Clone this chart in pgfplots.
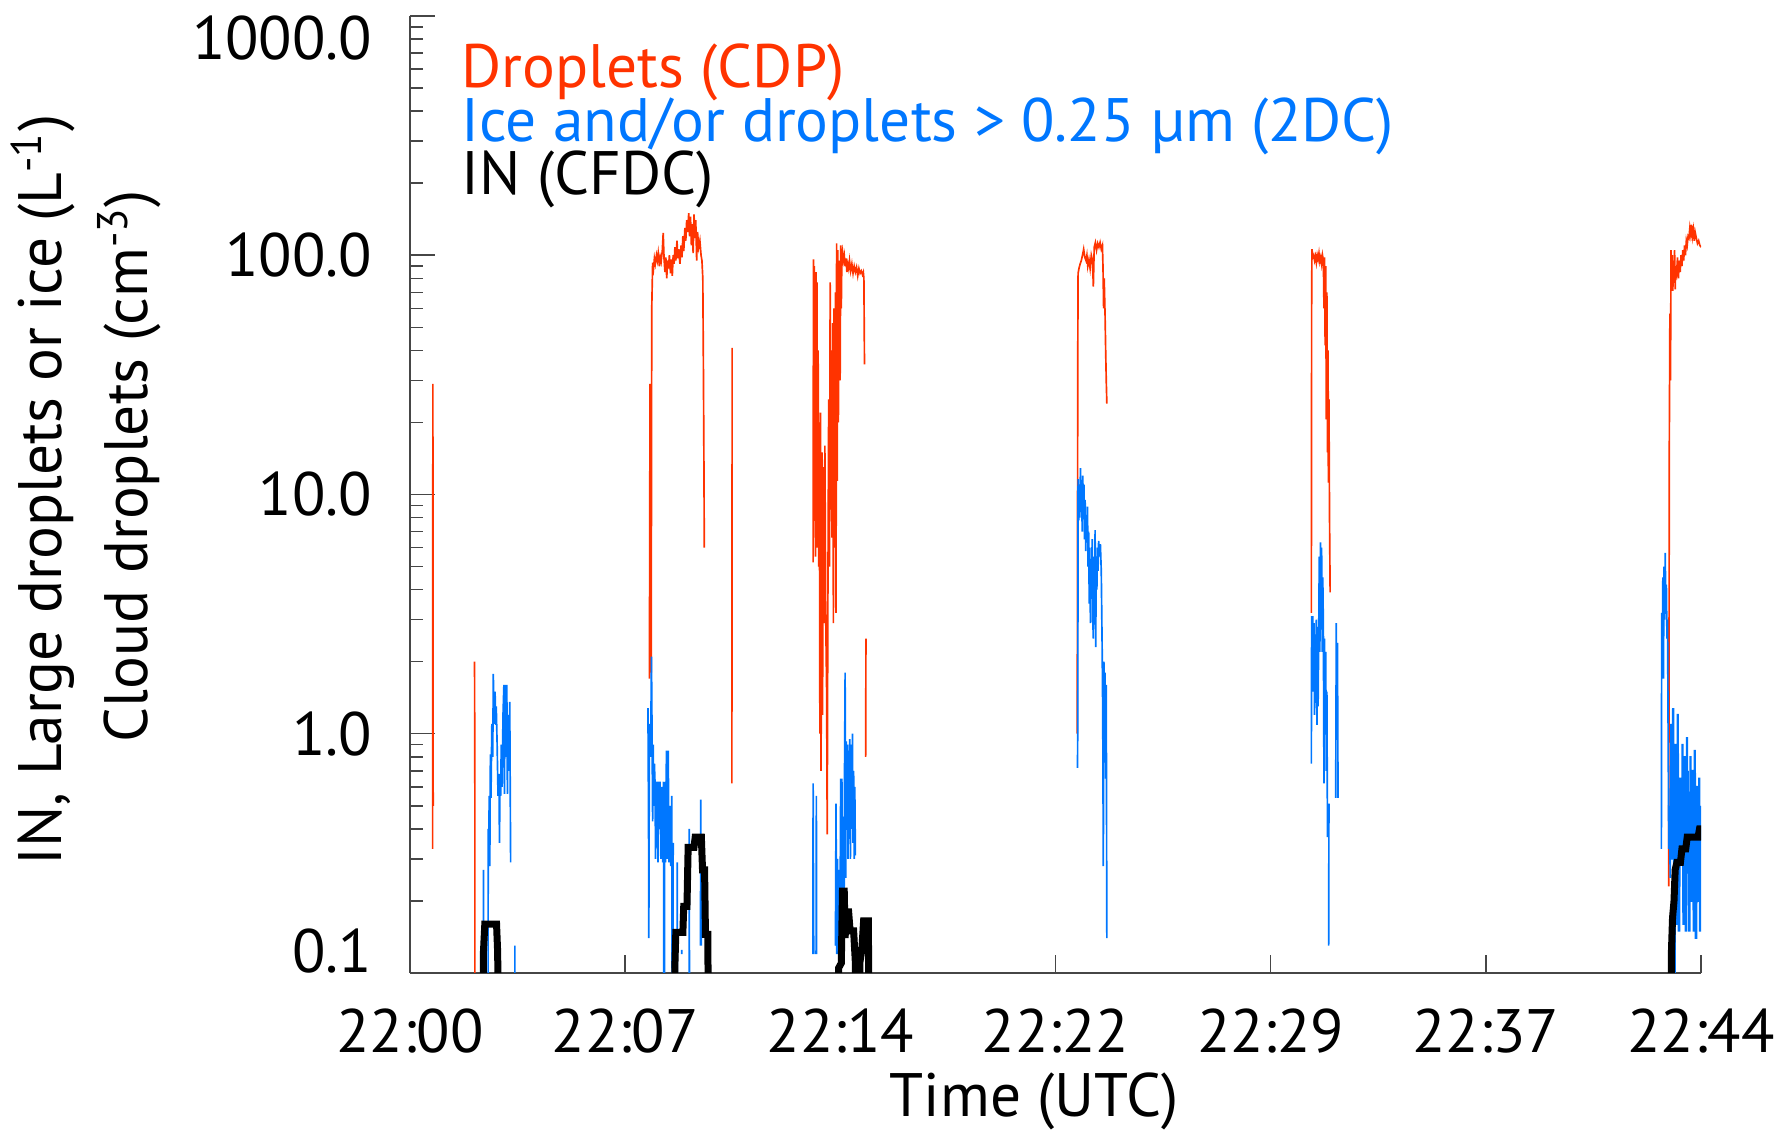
\documentclass[border=0pt]{standalone}
\usepackage{fontspec}
\setmainfont{PT Sans}
\usepackage{pgfplots}
\pgfplotsset{compat=1.18}
\definecolor{cdp}{RGB}{255,51,0}
\definecolor{twodc}{RGB}{0,119,255}
\definecolor{axgray}{RGB}{70,70,70}
\newcommand\lbl{\fontsize{18.4pt}{22pt}\selectfont}
\begin{document}
\begin{tikzpicture}
\path[use as bounding box] (-123pt,-47.4pt) rectangle (412.5pt,291.9pt);
\begin{axis}[
  at={(0pt,0pt)}, anchor=south west,
  scale only axis, width=387.3pt, height=287.1pt,
  xmin=0, xmax=44, ymin=0.1, ymax=1000, ymode=log,
  axis lines*=left,
  axis line style={draw=axgray, line width=0.6pt},
  tick align=inside,
  tick style={draw=axgray, line width=0.45pt},
  xtick={0,7.33333,14.66667,22,29.33333,36.66667,44},
  xticklabels={22:00,22:07,22:14,22:22,22:29,22:37,22:44},
  xtick style={/pgfplots/major tick length=5.4pt},
  ytick={0.1,1,10,100,1000},
  yticklabels={{\smash{0.1}},1.0,10.0,100.0,{\smash{\raisebox{-\height}{1000.0}}}},
  ytick style={/pgfplots/major tick length=7.5pt, /pgfplots/minor tick length=3.9pt},
  minor x tick num=0,
  xticklabel style={font=\lbl, anchor=base, inner sep=0pt, yshift=-24pt},
  yticklabel style={font=\lbl, anchor=east, inner sep=0pt, xshift=-11.1pt},
  unbounded coords=jump,
  clip=true,
]
% Droplets (CDP)
\addplot[cdp, line width=0.5pt] coordinates {
(0.77,0.33) (0.78,29) (0.785,3) (0.79,0.5) (0.80,nan)
(2.20,2.0) (2.21,0.6) (2.215,0.01) (2.22,nan)
(8.16,1.7) (8.18,29) (8.20,3) (8.22,1.8) (8.24,60) (8.27,93) (8.30,88) (8.33,97) (8.36,92) (8.40,100)
(8.43,95) (8.46,102) (8.50,90) (8.53,98) (8.56,94) (8.60,105) (8.63,124) (8.66,96) (8.69,85) (8.72,98)
(8.75,80) (8.78,95) (8.81,88) (8.84,100) (8.88,84) (8.91,96) (8.94,82) (8.97,100) (9.00,92) (9.03,108)
(9.06,95) (9.10,115) (9.13,97) (9.16,106) (9.20,92) (9.24,110) (9.27,98) (9.30,120) (9.33,104) (9.37,130)
(9.40,115) (9.43,140) (9.46,125) (9.50,150) (9.53,120) (9.56,145) (9.59,110) (9.62,135) (9.65,102) (9.68,148)
(9.71,118) (9.74,140) (9.77,95) (9.80,125) (9.84,108) (9.88,115) (9.92,100) (9.95,95) (9.98,80) (10.00,34)
(10.02,12) (10.03,6) (10.04,nan)
(10.97,0.62) (10.98,41) (10.99,nan)
(13.74,5.2) (13.75,96) (13.77,8) (13.78,90) (13.80,20) (13.82,5.5) (13.84,85) (13.86,30) (13.87,77) (13.89,6)
(13.91,40) (13.93,5) (13.95,20) (13.97,1.0) (13.99,22) (14.01,0.7) (14.04,15) (14.06,1.2) (14.09,13) (14.12,2.9)
(14.14,16) (14.17,3) (14.20,1.5) (14.22,0.38) (14.24,3) (14.27,25) (14.30,5)
(14.32,77) (14.34,8.9) (14.36,40) (14.38,6.6) (14.41,52) (14.43,2.9) (14.45,60) (14.47,6) (14.50,70) (14.52,3.2)
(14.54,112) (14.56,11.4) (14.58,105) (14.60,20) (14.63,95) (14.66,30) (14.68,110) (14.70,60) (14.72,100) (14.74,104)
(14.77,95) (14.80,100) (14.83,90) (14.86,97) (14.89,85) (14.92,92) (14.95,88) (14.98,95) (15.02,86) (15.06,92)
(15.10,84) (15.14,90) (15.18,85) (15.22,89) (15.26,82) (15.30,88) (15.34,84) (15.38,86) (15.42,83) (15.45,85)
(15.47,80) (15.49,35) (15.50,nan)
(15.53,0.8) (15.54,2.5) (15.55,nan)
(22.74,1.0) (22.76,40) (22.77,84) (22.80,88) (22.84,92) (22.88,95) (22.92,100) (22.96,106) (23.00,98) (23.04,95)
(23.07,100) (23.10,90) (23.14,96) (23.18,88) (23.22,100) (23.26,95) (23.29,74) (23.32,108) (23.36,113) (23.40,105)
(23.44,112) (23.48,108) (23.52,113) (23.56,106) (23.60,110) (23.62,88) (23.64,60) (23.66,80) (23.69,56) (23.71,40)
(23.73,30) (23.75,24) (23.76,nan)
(30.72,3.2) (30.73,60) (30.74,106) (30.77,98) (30.80,100) (30.83,95) (30.86,99) (30.89,93) (30.92,100) (30.95,96)
(30.98,102) (31.01,94) (31.04,98) (31.07,92) (31.10,100) (31.13,95) (31.15,60) (31.17,98) (31.19,42) (31.21,90)
(31.23,20.6) (31.25,70) (31.27,15) (31.29,40) (31.30,11.2) (31.32,25) (31.34,8) (31.36,3.9) (31.37,nan)
(42.90,0.23) (42.92,16) (42.94,57) (42.96,30) (42.98,105) (43.00,80) (43.02,100) (43.04,71) (43.06,95) (43.08,78)
(43.10,105) (43.12,72) (43.14,90) (43.17,85) (43.20,98) (43.23,80) (43.26,95) (43.29,85) (43.32,100) (43.35,90)
(43.38,105) (43.41,95) (43.44,110) (43.47,100) (43.50,115) (43.53,110) (43.56,120) (43.59,118) (43.62,130) (43.65,122)
(43.68,134) (43.71,120) (43.74,128) (43.77,115) (43.80,125) (43.84,118) (43.88,112) (43.92,115) (43.96,110) (44.00,108)
};
% Ice and/or droplets (2DC)
\addplot[twodc, line width=0.5pt] coordinates {
(2.50,0.01) (2.505,0.27) (2.51,0.01) (2.66,0.01) (2.665,0.40) (2.68,0.30) (2.70,0.55) (2.72,0.28) (2.74,0.82) (2.76,0.54)
(2.79,1.1) (2.82,0.8) (2.84,1.78) (2.86,1.2) (2.88,1.1) (2.90,1.5) (2.92,1.09) (2.94,1.3) (2.97,0.9) (3.00,0.55)
(3.03,0.68) (3.05,0.35) (3.07,0.68) (3.09,0.55) (3.11,0.9) (3.14,0.6) (3.17,1.2) (3.20,1.6) (3.22,0.56) (3.24,1.6)
(3.27,0.8) (3.30,1.6) (3.32,0.56) (3.35,1.2) (3.38,0.7) (3.40,1.36) (3.43,0.29) (3.45,nan)
(3.57,0.01) (3.575,0.13) (3.58,0.01) (3.59,nan)
(8.11,1.28) (8.13,0.43) (8.14,0.14) (8.16,1.1) (8.20,0.8) (8.23,2.1) (8.25,1.0) (8.27,0.43) (8.29,0.9) (8.31,0.5)
(8.33,0.75) (8.35,0.63) (8.37,0.30) (8.39,0.63) (8.41,0.35) (8.43,0.63) (8.45,0.29) (8.47,0.63) (8.50,0.4) (8.52,0.63)
(8.55,0.3) (8.58,0.6) (8.61,0.29) (8.64,0.63) (8.66,0.01) (8.68,0.63) (8.71,0.29) (8.74,0.85) (8.77,0.30) (8.80,0.85)
(8.83,0.29) (8.86,0.5) (8.89,0.28) (8.92,0.55) (8.95,0.01) (8.97,0.35) (9.00,nan)
(9.10,0.01) (9.11,0.29) (9.12,0.01) (9.13,nan)
(9.26,0.12) (9.265,0.125) (9.27,nan)
(9.51,0.01) (9.52,0.40) (9.53,0.01) (9.54,nan)
(9.90,0.13) (9.91,0.53) (9.93,0.13) (9.95,nan)
(13.73,0.12) (13.74,0.62) (13.76,0.12) (13.80,nan)
(13.84,0.12) (13.85,0.55) (13.86,0.12) (13.87,nan)
(14.50,0.13) (14.52,0.51) (14.54,0.12) (14.57,0.3) (14.60,0.12) (14.63,0.27) (14.65,0.12) (14.68,0.65) (14.70,0.14) (14.72,0.65)
(14.75,0.14) (14.77,0.45) (14.79,0.12) (14.81,0.7) (14.83,1.8) (14.85,0.25) (14.87,0.93) (14.89,0.45) (14.91,0.9) (14.93,0.3)
(14.95,0.85) (14.97,0.5) (14.99,0.95) (15.01,0.3) (15.03,0.9) (15.05,0.4) (15.08,1.0) (15.10,0.35) (15.12,0.7) (15.14,0.3)
(15.16,0.6) (15.18,0.31) (15.20,nan)
(22.75,0.72) (22.76,1.15) (22.77,11.6) (22.79,7.8) (22.81,10.5) (22.83,8) (22.85,12.9) (22.87,9) (22.89,11.5) (22.91,7)
(22.93,12) (22.95,8.5) (22.97,11) (22.99,6.5) (23.01,9.5) (23.03,5.8) (23.05,8) (23.07,6.5) (23.09,8.9) (23.11,5)
(23.13,7) (23.15,3.5) (23.17,6) (23.19,2.9) (23.21,5) (23.23,4) (23.25,6.5) (23.27,3) (23.29,2.5) (23.31,5.5)
(23.33,3) (23.35,7.1) (23.37,2.3) (23.39,5) (23.41,4) (23.43,6) (23.45,4.8) (23.47,6.4) (23.50,5.5) (23.53,6.2)
(23.56,4.8) (23.59,2.3) (23.61,1.2) (23.63,0.28) (23.65,2.0) (23.67,0.8) (23.69,1.8) (23.71,0.65) (23.73,1.6) (23.75,0.14)
(23.76,nan)
(30.72,0.75) (30.73,3.1) (30.75,1.6) (30.77,3.1) (30.79,1.5) (30.81,2.9) (30.83,1.2) (30.85,2.6) (30.87,1.56) (30.89,3.0)
(30.91,1.09) (30.93,2.8) (30.95,1.3) (30.97,2.5) (30.99,5.5) (31.01,2.2) (31.03,6.3) (31.05,3.5) (31.07,6.0) (31.09,2.2)
(31.11,4.5) (31.13,2.8) (31.15,0.62) (31.17,2.5) (31.19,1.0) (31.21,2.2) (31.23,0.7) (31.25,1.5) (31.27,0.37) (31.29,nan)
(31.31,0.13) (31.32,0.51) (31.33,nan)
(31.55,0.54) (31.57,2.9) (31.59,1.0) (31.61,2.4) (31.63,0.54) (31.64,nan)
(42.65,0.33) (42.66,3.2) (42.68,2.0) (42.70,4.5) (42.72,1.7) (42.74,5.0) (42.76,3.0) (42.78,5.7) (42.80,3.5) (42.82,4.2)
(42.84,2.5) (42.86,3.0) (42.88,1.0) (42.90,0.33) (42.93,0.5) (42.95,0.25)
(42.98,1.1) (43.00,0.3) (43.03,0.3) (43.04,1.27) (43.06,1.27) (43.07,0.2) (43.10,0.2) (43.11,0.01) (43.12,0.9) (43.15,0.9)
(43.16,0.16) (43.19,0.16) (43.20,1.2) (43.22,1.2) (43.23,0.15) (43.27,0.15) (43.28,0.65) (43.31,0.65) (43.32,0.3) (43.35,0.3)
(43.36,0.9) (43.38,0.9) (43.39,0.16) (43.43,0.16) (43.44,0.8) (43.46,0.8) (43.47,0.15) (43.50,0.15) (43.51,0.96) (43.53,0.96)
(43.54,0.3) (43.56,0.7) (43.58,0.15) (43.62,0.15) (43.63,0.8) (43.65,0.8) (43.66,0.2) (43.70,0.2) (43.71,0.7) (43.73,0.7)
(43.74,0.15) (43.77,0.15) (43.78,0.85) (43.80,0.85) (43.81,0.14) (43.85,0.14) (43.86,0.6) (43.88,0.6) (43.89,0.2) (43.92,0.2)
(43.93,0.65) (43.95,0.65) (43.96,0.15) (43.99,0.15) (44.00,0.5)
};
% IN (CFDC)
\addplot[black, line width=2.1pt] coordinates {
(2.48,0.01) (2.50,0.12) (2.55,0.16) (2.95,0.16) (2.99,0.12) (3.02,0.01) (3.03,nan)
(9.01,0.01) (9.03,0.11) (9.06,0.148) (9.30,0.148) (9.33,0.19) (9.44,0.19) (9.48,0.335) (9.68,0.335) (9.72,0.37) (9.93,0.37)
(9.97,0.27) (10.04,0.27) (10.07,0.145) (10.15,0.145) (10.21,0.01) (10.22,nan)
(14.58,0.01) (14.61,0.105) (14.70,0.11) (14.74,0.22) (14.80,0.22) (14.83,0.14) (14.87,0.18) (14.95,0.18) (15.00,0.15) (15.12,0.15)
(15.18,0.11) (15.25,0.01) (15.30,0.01) (15.33,0.11) (15.40,0.125) (15.46,0.165) (15.62,0.165) (15.70,0.01) (15.71,nan)
(42.96,0.01) (42.99,0.12) (43.03,0.17) (43.08,0.2) (43.12,0.27) (43.18,0.29) (43.30,0.29) (43.35,0.33) (43.48,0.33) (43.53,0.37)
(43.90,0.37) (43.95,0.40) (44.00,0.40)
};
\end{axis}
\node[anchor=base west, inner sep=0pt, font=\lbl, text=cdp] at (15.3pt,265.5pt) {Droplets (CDP)};
\node[anchor=base west, inner sep=0pt, font=\lbl, text=twodc] at (15.3pt,249.3pt) {Ice and/or droplets > 0.25 µm (2DC)};
\node[anchor=base west, inner sep=0pt, font=\lbl, text=black] at (15.3pt,233.4pt) {IN (CFDC)};
\node[rotate=90, anchor=base, inner sep=0pt, font=\lbl] at (-104.4pt,144.9pt) {IN, Large droplets or ice (L\textsuperscript{-1})};
\node[rotate=90, anchor=base, inner sep=0pt, font=\lbl] at (-78.6pt,152.1pt) {Cloud droplets (cm\textsuperscript{-3})};
\node[anchor=base, inner sep=0pt, font=\lbl] at (187.2pt,-43.2pt) {Time (UTC)};
\end{tikzpicture}
\end{document}
